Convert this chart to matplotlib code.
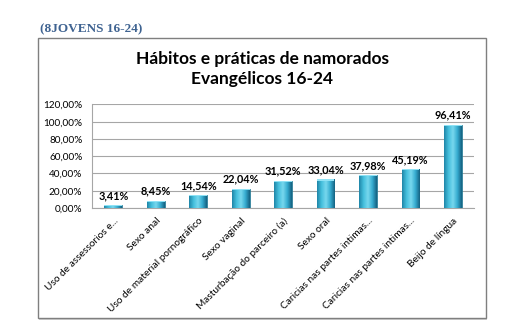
import matplotlib
matplotlib.use("Agg")
import matplotlib.pyplot as plt
import matplotlib.transforms as mtransforms
import numpy as np
from matplotlib.patches import Rectangle
from matplotlib.colors import LinearSegmentedColormap

categories = ["Uso de assessorios e...", "Sexo anal", "Uso de material pornográfico",
              "Sexo vaginal", "Masturbação do parceiro (a)", "Sexo oral",
              "Caricias nas partes intimas...", "Caricias nas partes intimas...",
              "Beijo de língua"]
values = [3.41, 8.45, 14.54, 22.04, 31.52, 33.04, 37.98, 45.19, 96.41]
yticks = [0, 20, 40, 60, 80, 100, 120]
title = "Hábitos e práticas de namorados\nEvangélicos 16-24"
header = "(8JOVENS 16-24)"

fam = ["Lato", "DejaVu Sans"]
fig = plt.figure(figsize=(5.12, 3.36), dpi=100)
fig.patch.set_facecolor("white")

# outer box with shadow
fig.patches.append(Rectangle((0.0762, 0.0476), 0.875, 0.833, transform=fig.transFigure,
                             facecolor="#d0d0d0", edgecolor="none", zorder=0))
fig.patches.append(Rectangle((0.0742, 0.0536), 0.875, 0.833, transform=fig.transFigure,
                             facecolor="white", edgecolor="#7f7f7f", linewidth=1.0, zorder=1))

fig.text(0.078, 0.913, header, fontsize=9.5, fontweight="bold", color="#3f6391",
         family=["Liberation Serif", "DejaVu Serif"], va="center", ha="left")
fig.text(0.512, 0.795, title, fontsize=12.5, fontweight="bold", color="black",
         family=fam, va="center", ha="center", linespacing=1.35)

ax = fig.add_axes([0.180, 0.381, 0.746, 0.308])
ax.set_zorder(2)
ax.patch.set_alpha(0)
x = np.arange(len(values))
bars = ax.bar(x, values, width=0.42, color="#2f9fc0", edgecolor="#1d6f8a", linewidth=0.5, zorder=3)

cmap = LinearSegmentedColormap.from_list("cyl", ["#1f86a8", "#45bfdd", "#78d8ee", "#36acd0", "#156282"])
grad = np.linspace(0, 1, 64).reshape(1, -1)
for b in bars:
    x0, y0 = b.get_x(), b.get_y()
    w, h = b.get_width(), b.get_height()
    im = ax.imshow(grad, cmap=cmap, extent=(x0, x0 + w, y0, y0 + h), aspect="auto", zorder=4)
    im.set_clip_path(b)
    ax.add_patch(Rectangle((x0, y0 + h - 1.2), w, 1.2, facecolor="#8fe2f5", edgecolor="none", zorder=5))

for xi, v in zip(x, values):
    ax.annotate(f"{v:.2f}%".replace(".", ","), (xi, v), xytext=(0, 3), textcoords="offset points",
                ha="center", va="bottom", fontsize=7.8, fontweight="bold", family=fam, zorder=6)

ax.set_xlim(-0.5, len(values) - 0.5)
ax.set_ylim(0, 120)
ax.set_yticks(yticks)
ax.set_yticklabels([f"{t:.2f}%".replace(".", ",") for t in yticks], fontsize=7.2, family=fam)
ax.yaxis.grid(True, color="#a6a6a6", linewidth=0.8, zorder=0)
ax.set_axisbelow(True)
ax.set_xticks(x)
ax.set_xticklabels(categories, rotation=45, ha="right", rotation_mode="anchor", fontsize=7.3, family=fam)
shift = mtransforms.ScaledTranslation(4 / 72, 0, fig.dpi_scale_trans)
for lbl in ax.get_xticklabels():
    lbl.set_transform(lbl.get_transform() + shift)
ax.tick_params(axis="y", length=0, pad=7)
ax.tick_params(axis="x", length=0, pad=6)
for s in ["top", "right"]:
    ax.spines[s].set_visible(False)
ax.spines["left"].set_color("#a6a6a6")
ax.spines["bottom"].set_color("#a6a6a6")

fig.savefig("out.png", dpi=100, facecolor="white")
